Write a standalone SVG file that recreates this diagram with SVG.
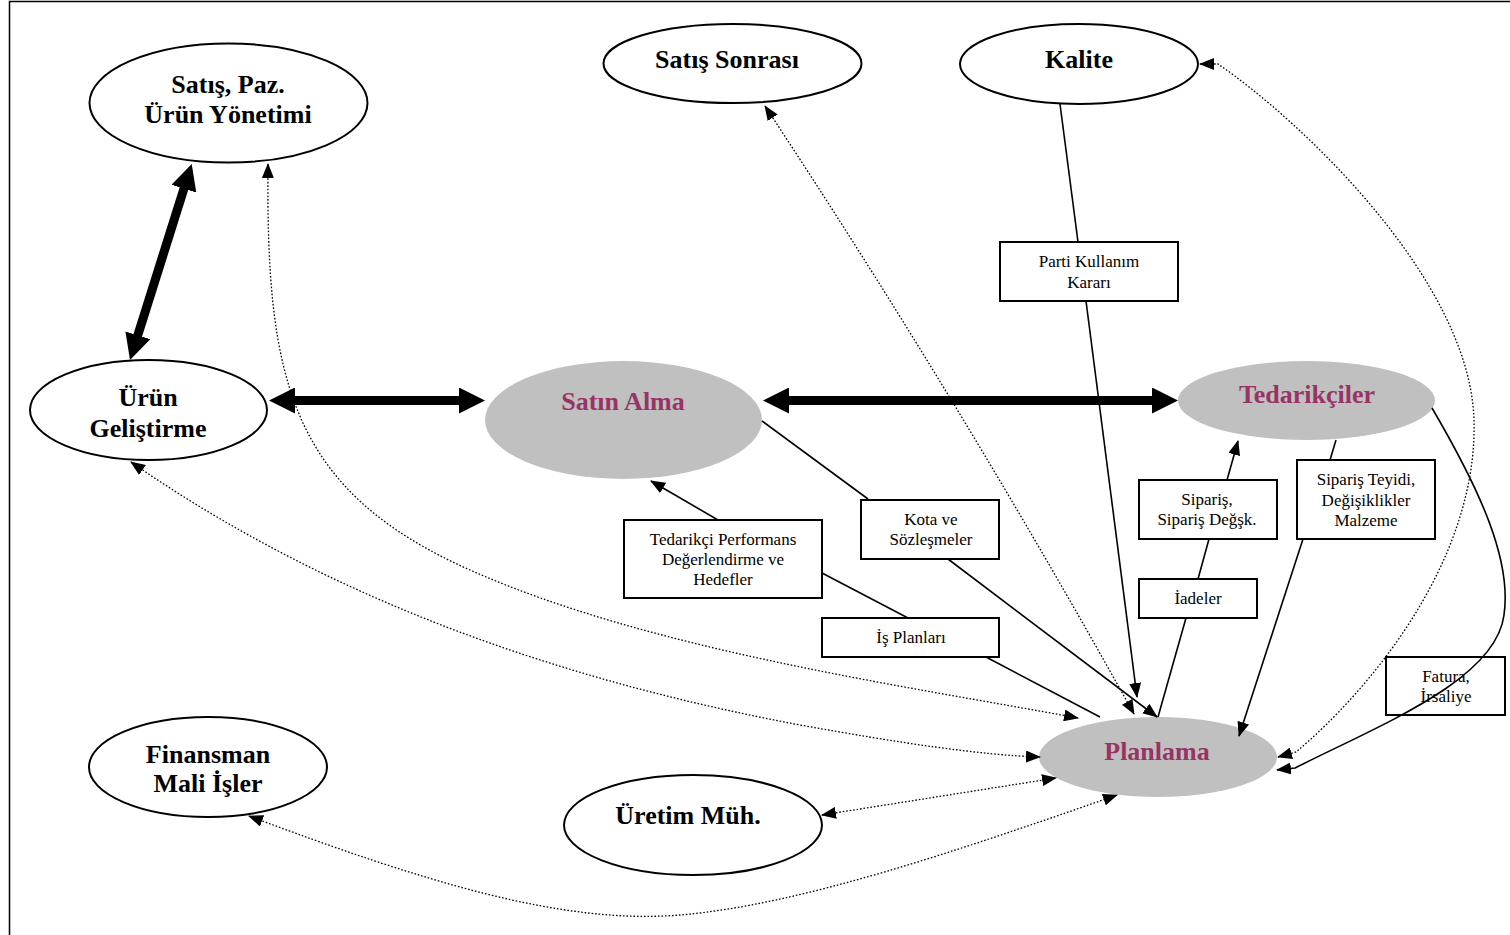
<svg xmlns="http://www.w3.org/2000/svg" width="1510" height="935" viewBox="0 0 1510 935">
  <style>
    .frame { fill: none; stroke: #000; stroke-width: 1.5; }
    .dept { fill: #fff; stroke: #000; stroke-width: 2; }
    .core { fill: #c0c0c0; stroke: none; }
    .box { fill: #fff; stroke: #000; stroke-width: 2; }
    .t-dept { font-family: "Liberation Serif", "Times New Roman", serif; font-weight: bold; font-size: 26px; text-anchor: middle; fill: #000; }
    .t-core { font-family: "Liberation Serif", "Times New Roman", serif; font-weight: bold; font-size: 26px; text-anchor: middle; fill: #993366; }
    .t-box { font-family: "Liberation Serif", "Times New Roman", serif; font-size: 17px; text-anchor: middle; fill: #000; }
    .flow { fill: none; stroke: #000; stroke-width: 1.6; }
    .info { fill: none; stroke: #000; stroke-width: 1.3; stroke-dasharray: 1.6 1.9; }
    .main { fill: none; stroke: #000; stroke-width: 9; }
  </style>
  <defs>
    <marker id="head" viewBox="0 0 15 12" refX="14" refY="6" markerWidth="15" markerHeight="12" markerUnits="userSpaceOnUse" orient="auto-start-reverse">
      <path d="M0,0 L15,6 L0,12 z" fill="#000"/>
    </marker>
    <marker id="bighead" viewBox="0 0 26 26" refX="6" refY="13" markerWidth="26" markerHeight="26" markerUnits="userSpaceOnUse" orient="auto-start-reverse">
      <path d="M0,0 L26,13 L0,26 z" fill="#000"/>
    </marker>
  </defs>

  <rect class="frame" x="9.5" y="1.5" width="1520" height="950"/>

  <!-- departments -->
  <g id="satis-paz">
    <ellipse class="dept" cx="228.5" cy="103" rx="139" ry="59.5"/>
    <text class="t-dept" x="228" y="93">Satış, Paz.</text>
    <text class="t-dept" x="228" y="123">Ürün Yönetimi</text>
  </g>
  <g id="satis-sonrasi">
    <ellipse class="dept" cx="732.5" cy="63.5" rx="129" ry="39.5"/>
    <text class="t-dept" x="727" y="68">Satış Sonrası</text>
  </g>
  <g id="kalite">
    <ellipse class="dept" cx="1079" cy="64" rx="119" ry="40"/>
    <text class="t-dept" x="1079" y="68">Kalite</text>
  </g>
  <g id="urun-gelistirme">
    <ellipse class="dept" cx="148.5" cy="410" rx="118.5" ry="50"/>
    <text class="t-dept" x="148" y="406">Ürün</text>
    <text class="t-dept" x="148" y="437">Geliştirme</text>
  </g>
  <g id="satin-alma">
    <ellipse class="core" cx="623.5" cy="420" rx="138.5" ry="59"/>
    <text class="t-core" x="623" y="410">Satın Alma</text>
  </g>
  <g id="tedarikciler">
    <ellipse class="core" cx="1306.5" cy="400.5" rx="128.5" ry="39.5"/>
    <text class="t-core" x="1307" y="403">Tedarikçiler</text>
  </g>
  <g id="planlama">
    <ellipse class="core" cx="1158" cy="757" rx="119" ry="40"/>
    <text class="t-core" x="1157" y="760">Planlama</text>
  </g>
  <g id="finansman">
    <ellipse class="dept" cx="208" cy="767" rx="119" ry="50"/>
    <text class="t-dept" x="208" y="763">Finansman</text>
    <text class="t-dept" x="208" y="792">Mali İşler</text>
  </g>
  <g id="uretim-muh">
    <ellipse class="dept" cx="693" cy="825" rx="129" ry="50"/>
    <text class="t-dept" x="688" y="824">Üretim Müh.</text>
  </g>

  <!-- flow labels -->
  <g id="lbl-parti">
    <rect class="box" x="1000" y="242" width="178" height="59"/>
    <text class="t-box" x="1089" y="267">Parti Kullanım</text>
    <text class="t-box" x="1089" y="288">Kararı</text>
  </g>
  <g id="lbl-performans">
    <rect class="box" x="624" y="520" width="198" height="78"/>
    <text class="t-box" x="723" y="545">Tedarikçi Performans</text>
    <text class="t-box" x="723" y="565">Değerlendirme ve</text>
    <text class="t-box" x="723" y="585">Hedefler</text>
  </g>
  <g id="lbl-kota">
    <rect class="box" x="861" y="500" width="138" height="59"/>
    <text class="t-box" x="931" y="525">Kota ve</text>
    <text class="t-box" x="931" y="545">Sözleşmeler</text>
  </g>
  <g id="lbl-isplan">
    <rect class="box" x="822" y="618" width="177" height="39"/>
    <text class="t-box" x="911" y="643">İş Planları</text>
  </g>
  <g id="lbl-siparis">
    <rect class="box" x="1139" y="480" width="138" height="59"/>
    <text class="t-box" x="1207" y="505">Sipariş,</text>
    <text class="t-box" x="1207" y="525">Sipariş Değşk.</text>
  </g>
  <g id="lbl-iadeler">
    <rect class="box" x="1139" y="579" width="118" height="39"/>
    <text class="t-box" x="1198" y="604">İadeler</text>
  </g>
  <g id="lbl-teyit">
    <rect class="box" x="1297" y="460" width="138" height="79"/>
    <text class="t-box" x="1366" y="485">Sipariş Teyidi,</text>
    <text class="t-box" x="1366" y="506">Değişiklikler</text>
    <text class="t-box" x="1366" y="526">Malzeme</text>
  </g>
  <g id="lbl-fatura">
    <rect class="box" x="1386" y="657" width="119" height="58"/>
    <text class="t-box" x="1446" y="682">Fatura,</text>
    <text class="t-box" x="1446" y="702">İrsaliye</text>
  </g>

  <!-- connectors -->
  <g id="connectors">
    <!-- main two-way flows -->
    <line class="main" x1="136" y1="341" x2="185.7" y2="183" marker-start="url(#bighead)" marker-end="url(#bighead)"/>
    <line class="main" x1="289" y1="400.5" x2="465" y2="400.5" marker-start="url(#bighead)" marker-end="url(#bighead)"/>
    <line class="main" x1="783" y1="400.5" x2="1158" y2="400.5" marker-start="url(#bighead)" marker-end="url(#bighead)"/>

    <!-- Kalite -> Planlama -->
    <path class="flow" d="M1060,104 L1078,242"/>
    <path class="flow" d="M1086,301 L1137,697" marker-end="url(#head)"/>

    <!-- Planlama -> Tedarikçiler (sipariş, iadeler) -->
    <path class="flow" d="M1158,717 L1186,618"/>
    <path class="flow" d="M1198,579 L1209,539"/>
    <path class="flow" d="M1227,480 L1238,441" marker-end="url(#head)"/>

    <!-- Tedarikçiler -> Planlama (teyit) -->
    <path class="flow" d="M1336,440 L1330,460"/>
    <path class="flow" d="M1303,539 L1239,736" marker-end="url(#head)"/>

    <!-- Tedarikçiler -> Planlama (fatura) -->
    <path class="flow" d="M1432,408 C1480,490 1512,560 1504,615 C1496,680 1380,725 1295,768 L1277,770" marker-end="url(#head)"/>

    <!-- Satın Alma -> Planlama (kota) -->
    <path class="flow" d="M762,421 L868,499"/>
    <path class="flow" d="M948,559 L1157,717" marker-end="url(#head)"/>

    <!-- Planlama -> Satın Alma (iş planları, performans) -->
    <path class="flow" d="M1100,717 L986,657"/>
    <path class="flow" d="M908,618 L822,573"/>
    <path class="flow" d="M718,520 L651,481" marker-end="url(#head)"/>

    <!-- information exchanges -->
    <path class="info" d="M765,106 Q961,403 1134,714" marker-start="url(#head)" marker-end="url(#head)"/>
    <path class="info" d="M1200,64 L1218,64 C1300,120 1470,280 1474,420 C1478,560 1370,690 1296,752 L1278,757" marker-start="url(#head)" marker-end="url(#head)"/>
    <path class="info" d="M268,164 C266,380 290,490 470,570 C650,650 900,685 1078,718" marker-start="url(#head)" marker-end="url(#head)"/>
    <path class="info" d="M131,462 C330,600 560,680 800,725 C900,743 980,755 1040,757" marker-start="url(#head)" marker-end="url(#head)"/>
    <path class="info" d="M822,815 L1056,778" marker-start="url(#head)" marker-end="url(#head)"/>
    <path class="info" d="M249,816 C420,880 560,925 680,915 C800,905 960,850 1117,795" marker-start="url(#head)" marker-end="url(#head)"/>
  </g>
</svg>
